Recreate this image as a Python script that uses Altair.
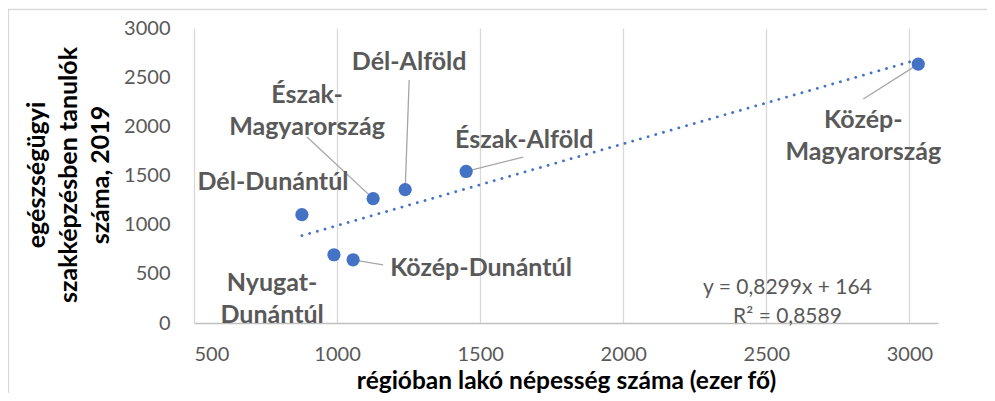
import altair as alt
import pandas as pd

# ---- data ----
regions = ["Dél-Dunántúl", "Nyugat-Dunántúl", "Közép-Dunántúl", "Észak-Magyarország",
           "Dél-Alföld", "Észak-Alföld", "Közép-Magyarország"]
population = [877, 989, 1056, 1126, 1238, 1451, 3031]   # ezer fő
students = [1102, 694, 643, 1265, 1357, 1541, 2633]

label_text = ["Dél-Dunántúl", "Nyugat-\nDunántúl", "Közép-Dunántúl", "Észak-\nMagyarország",
              "Dél-Alföld", "Észak-Alföld", "Közép-\nMagyarország"]
# label anchor positions (data units; first text line for two-line labels)
label_x = [776, 773, 1503, 895, 1252, 1654, 2839]
label_y = [1434, 407, 559, 2319, 2654, 1866, 2064]
# leader-line ends (data units); None = no leader
leader_x = [None, None, 1161, 895, 1252, 1650, 2839]
leader_y = [None, None, 590, 1892, 2471, 1688, 2278]

eq_text = ["y = 0,8299x + 164\nR² = 0,8589"]
eq_x = [2574]
eq_y = [356]

x_ticks = [500, 1000, 1500, 2000, 2500, 3000]
y_ticks = [0, 500, 1000, 1500, 2000, 2500, 3000]

df = pd.DataFrame({"region": regions, "pop": population, "stud": students,
                   "label": label_text, "lx": label_x, "ly": label_y,
                   "ex": leader_x, "ey": leader_y})
eq_df = pd.DataFrame({"t": eq_text, "x": eq_x, "y": eq_y})

FONT = "Lato"
W, H = 744, 295
XT = "régióban lakó népesség száma (ezer fő)"
YT = ["egészségügyi", "szakképzésben tanulók", "száma, 2019"]

xscale = alt.Scale(domain=[500, 3100], nice=False, zero=False)
yscale = alt.Scale(domain=[0, 3000], nice=False, zero=False)

xaxis = alt.Axis(values=x_ticks, title=XT, format="d",
                 grid=True, gridColor="#d9d9d9", gridWidth=1.3,
                 domain=True, domainColor="#bfbfbf", domainWidth=1.5,
                 ticks=False, tickSize=0, labelPadding=21,
                 labelFont=FONT, labelFontSize=20, labelColor="#595959",
                 titleFont=FONT, titleFontSize=24.5, titleFontWeight="bold", titleColor="#000000",
                 titleY=58, titleBaseline="middle")
yaxis = alt.Axis(values=y_ticks, title=YT, format="d",
                 grid=False, domain=False, ticks=False, tickSize=0, labelPadding=24,
                 labelFont=FONT, labelFontSize=20, labelColor="#595959",
                 titleFont=FONT, titleFontSize=25, titleFontWeight="bold", titleColor="#000000",
                 titleAngle=-90, titleAlign="center", titleBaseline="middle",
                 titleLineHeight=32, titleX=-158, titleY=H / 2 - 1)


def xenc(field):
    return alt.X(field, type="quantitative", scale=xscale, axis=xaxis, title=XT)


def yenc(field):
    return alt.Y(field, type="quantitative", scale=yscale, axis=yaxis, title=YT)


base = alt.Chart(df)

border = alt.Chart(eq_df).mark_rect(fill=None, stroke="#d9d9d9", strokeWidth=1.3).encode(
    x=alt.value(-185.5), x2=alt.value(W + 200), y=alt.value(-18.5), y2=alt.value(H + 200))

leaders = base.transform_filter("isValid(datum.ex)").mark_rule(
    color="#a6a6a6", strokeWidth=1.3).encode(
    x=xenc("ex"), y=yenc("ey"), x2="pop:Q", y2="stud:Q")

trend = base.transform_regression("pop", "stud").mark_line(
    color="#4472C4", strokeWidth=2.8, strokeDash=[0.1, 7.9], strokeCap="round").encode(
    x=xenc("pop"), y=yenc("stud"))

points = base.mark_circle(size=175, color="#4472C4", opacity=1).encode(
    x=xenc("pop"), y=yenc("stud"))

labels = base.mark_text(font=FONT, fontSize=25, fontWeight="bold", color="#595959",
                        lineBreak="\n", lineHeight=32, align="center", baseline="middle").encode(
    x=xenc("lx"), y=yenc("ly"), text="label:N")

eq = alt.Chart(eq_df).mark_text(font=FONT, fontSize=21, color="#595959",
                                lineBreak="\n", lineHeight=29, align="center",
                                baseline="middle").encode(
    x=xenc("x"), y=yenc("y"), text="t:N")

chart = alt.layer(border, leaders, trend, points, labels, eq).properties(
    width=W, height=H,
    autosize=alt.AutoSizeParams(type="none"),
    padding={"left": 186, "top": 20, "right": 49, "bottom": 70},
).configure_view(stroke=None)

chart.save("out.html", embed_options={"renderer": "svg", "actions": False})
